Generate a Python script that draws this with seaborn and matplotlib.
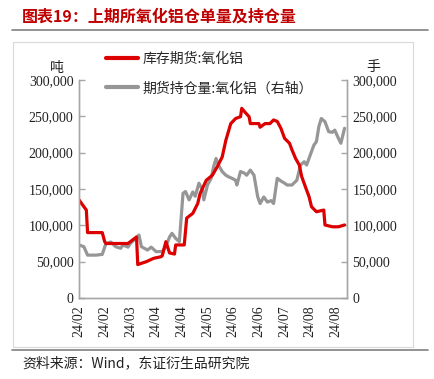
import matplotlib
matplotlib.use("Agg")
import matplotlib.pyplot as plt
import matplotlib.dates as mdates
from matplotlib.ticker import FuncFormatter, FixedLocator
from matplotlib.lines import Line2D
from matplotlib.patches import Rectangle
import pandas as pd
import seaborn as sns

# ---- data ----
inv_dates = ["2024-02-01", "2024-02-04", "2024-02-07", "2024-02-08", "2024-02-20", "2024-02-22",
             "2024-02-23", "2024-03-12", "2024-03-19", "2024-03-20", "2024-03-27", "2024-04-02",
             "2024-04-08", "2024-04-09", "2024-04-12", "2024-04-15", "2024-04-19", "2024-04-20",
             "2024-04-27", "2024-04-29", "2024-05-04", "2024-05-08", "2024-05-10", "2024-05-15",
             "2024-05-20", "2024-05-24", "2024-05-28", "2024-05-31", "2024-06-04", "2024-06-08",
             "2024-06-12", "2024-06-13", "2024-06-16", "2024-06-19", "2024-06-20", "2024-06-27",
             "2024-06-28", "2024-07-02", "2024-07-06", "2024-07-09", "2024-07-12", "2024-07-15",
             "2024-07-18", "2024-07-22", "2024-07-24", "2024-07-27", "2024-07-30", "2024-08-01",
             "2024-08-04", "2024-08-07", "2024-08-09", "2024-08-13", "2024-08-19", "2024-08-20",
             "2024-08-26", "2024-08-31", "2024-09-05"]
inv_values = [135000, 128000, 121000, 90000, 90000, 77500,
              75000, 75000, 84000, 46000, 50000, 54600,
              56800, 58000, 77500, 62000, 60500, 73000,
              73000, 110000, 116500, 130000, 144000, 162000,
              169000, 180700, 194000, 217000, 240000, 247000,
              249500, 261000, 255000, 249500, 240000, 240000,
              235000, 240000, 240000, 245000, 243000, 233500,
              219700, 213000, 204000, 192000, 183000, 167000,
              153000, 139400, 125600, 118700, 121000, 100500,
              98000, 98000, 100500]

oi_dates = ["2024-02-01", "2024-02-05", "2024-02-08", "2024-02-15", "2024-02-20", "2024-02-23",
            "2024-02-27", "2024-03-02", "2024-03-06", "2024-03-08", "2024-03-12", "2024-03-14",
            "2024-03-17", "2024-03-21", "2024-03-23", "2024-03-28", "2024-03-31", "2024-04-04",
            "2024-04-09", "2024-04-12", "2024-04-15", "2024-04-17", "2024-04-20", "2024-04-23",
            "2024-04-26", "2024-04-28", "2024-05-01", "2024-05-04", "2024-05-06", "2024-05-09",
            "2024-05-12", "2024-05-13", "2024-05-16", "2024-05-19", "2024-05-21", "2024-05-23",
            "2024-05-25", "2024-05-28", "2024-05-31", "2024-06-02", "2024-06-05", "2024-06-08",
            "2024-06-09", "2024-06-12", "2024-06-15", "2024-06-17", "2024-06-20", "2024-06-23",
            "2024-06-26", "2024-06-28", "2024-07-01", "2024-07-04", "2024-07-07", "2024-07-09",
            "2024-07-12", "2024-07-15", "2024-07-18", "2024-07-20", "2024-07-24", "2024-07-28",
            "2024-07-31", "2024-08-03", "2024-08-05", "2024-08-08", "2024-08-11", "2024-08-13",
            "2024-08-15", "2024-08-17", "2024-08-20", "2024-08-23", "2024-08-26", "2024-08-28",
            "2024-08-31", "2024-09-02", "2024-09-05"]
oi_values = [73000, 70600, 59000, 59000, 60000, 75000,
             77000, 70600, 68400, 73000, 70000, 75000,
             80000, 86700, 70600, 66000, 70000, 63800,
             64000, 70600, 84000, 89000, 82000, 77500,
             144000, 146500, 135000, 146000, 140000, 158000,
             148600, 135000, 155500, 164700, 180700, 192000,
             183000, 174000, 169000, 167000, 164700, 162000,
             155500, 174000, 172000, 169000, 176000, 169000,
             139400, 130000, 139000, 132000, 134000, 130000,
             164700, 161000, 158000, 155500, 155500, 162000,
             183000, 187500, 183000, 197000, 210600, 215000,
             236000, 247000, 242600, 229000, 228000, 231000,
             219700, 213000, 233500]

label_inv = "库存期货:氧化铝"
label_oi = "期货持仓量:氧化铝（右轴）"
title_text = "图表19：上期所氧化铝仓单量及持仓量"
source_text = "资料来源：Wind，东证衍生品研究院"
y_ticks = [0, 50000, 100000, 150000, 200000, 250000, 300000]

# ---- styling ----
sns.set_style("white")
plt.rcParams["font.family"] = ["Liberation Serif", "Noto Sans CJK SC", "DejaVu Sans"]
cjk = ["Noto Sans CJK SC", "DejaVu Sans"]

RED = "#DC0000"
GRAY = "#969696"
SPINE = "#A6A6A6"
W, H = 435, 379

fig = plt.figure(figsize=(W / 100, H / 100), dpi=100)
ax = fig.add_axes([79 / W, 1 - 298 / H, (347 - 79) / W, (298 - 80) / H])
ax2 = ax.twinx()

df_inv = pd.DataFrame({"date": pd.to_datetime(inv_dates), "value": inv_values})
df_oi = pd.DataFrame({"date": pd.to_datetime(oi_dates), "value": oi_values})

sns.lineplot(data=df_inv, x="date", y="value", ax=ax, color=RED, linewidth=2.3)
sns.lineplot(data=df_oi, x="date", y="value", ax=ax2, color=GRAY, linewidth=2.3)

ax.set_zorder(ax2.get_zorder() + 1)
ax.patch.set_visible(False)

for a in (ax, ax2):
    a.set_ylim(0, 300000)
    a.yaxis.set_major_locator(FixedLocator(y_ticks))
    a.yaxis.set_major_formatter(FuncFormatter(lambda v, p: f"{v:,.0f}"))
    a.set_xlabel("")
    a.set_ylabel("")
    a.spines["top"].set_visible(False)
    for s in ("left", "right", "bottom"):
        a.spines[s].set_color(SPINE)
        a.spines[s].set_linewidth(1.0)
    a.tick_params(axis="both", direction="in", length=4, color=SPINE, width=1.0,
                  labelsize=10, labelcolor="#222222", pad=4)

xticks = pd.date_range("2024-02-01", periods=11, freq="21D")
ax.set_xlim(pd.Timestamp("2024-02-01"), pd.Timestamp("2024-09-07"))
ax.set_xticks(xticks)
ax.xaxis.set_major_formatter(mdates.DateFormatter("%y/%m"))
for lbl in ax.get_xticklabels():
    lbl.set_rotation(90)
ax.tick_params(axis="x", pad=5)
ax2.tick_params(axis="x", bottom=False, labelbottom=False)

# unit labels
fig.text(57 / W, 1 - 68 / H, "吨", ha="center", va="center", fontsize=10, family=cjk, color="#222222")
fig.text(373 / W, 1 - 67 / H, "手", ha="center", va="center", fontsize=10, family=cjk, color="#222222")

# legend
handles = [Line2D([], [], color=RED, lw=3), Line2D([], [], color=GRAY, lw=3)]
fig.legend(handles, [label_inv, label_oi], loc="upper left",
           bbox_to_anchor=(106 / W, 1 - 52 / H), frameon=False,
           prop={"family": cjk, "size": 10}, handlelength=2.3, handletextpad=0.35,
           labelspacing=1.1, borderpad=0, borderaxespad=0)

# title, rules, frame, source
fig.text(22 / W, 1 - 17 / H, title_text, ha="left", va="center", fontsize=11.5,
         fontweight="bold", family=cjk, color="#C00000")
fig.add_artist(Line2D([12 / W, 428 / W], [1 - 30 / H, 1 - 30 / H], color="#808080", lw=1.2))
fig.add_artist(Rectangle((13 / W, 1 - 347 / H), 400 / W, 305 / H, fill=False,
                         edgecolor="#D9D9D9", lw=0.8))
fig.add_artist(Line2D([12 / W, 428 / W], [1 - 350 / H, 1 - 350 / H], color="#808080", lw=1.2))
fig.text(22 / W, 1 - 363 / H, source_text, ha="left", va="center", fontsize=10,
         family=cjk, color="#222222")

fig.savefig("out.png", dpi=100)
